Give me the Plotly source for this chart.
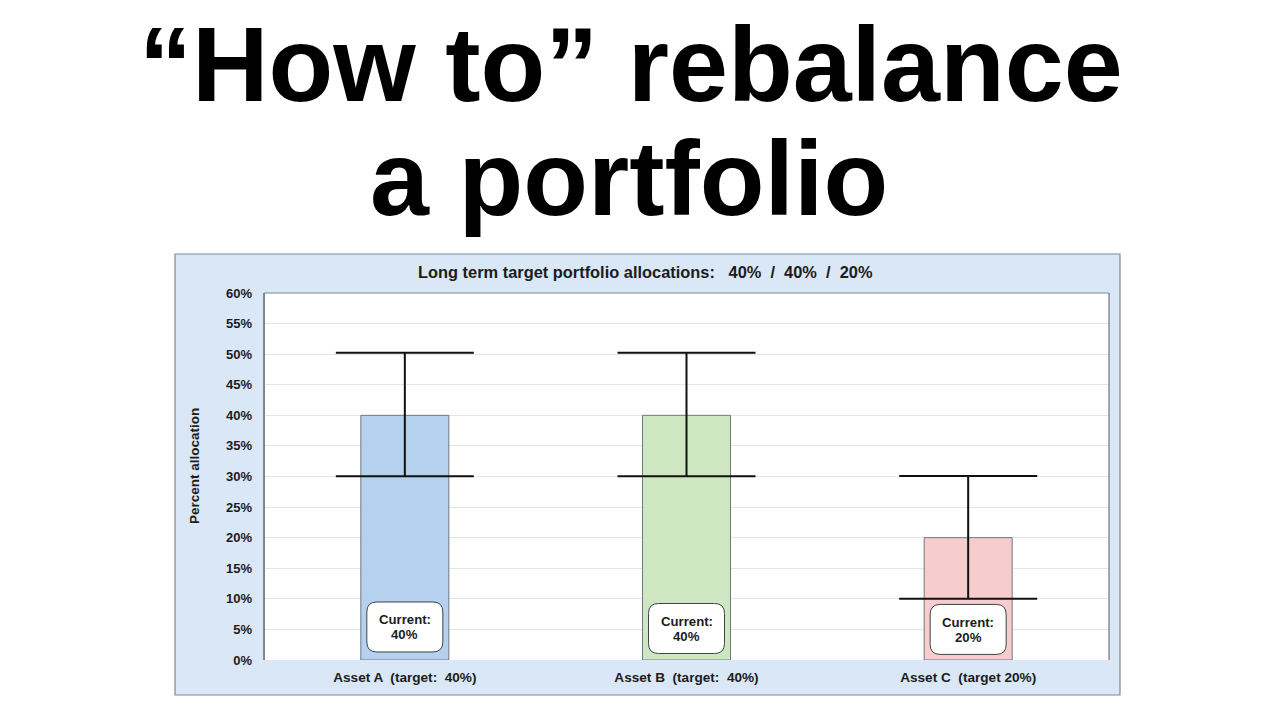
import plotly.graph_objects as go

# Values
categories = ['Asset A  (target:  40%)', 'Asset B  (target:  40%)', 'Asset C  (target 20%)']
current = [40, 40, 20]
band_high = [50.25, 50.25, 30.1]
band_low = [30.05, 30.05, 10.0]
current_labels = ['40%', '40%', '20%']
bar_colors = ['#b5d1ee', '#cfe6c3', '#f7cccd']
y_ticks = list(range(0, 65, 5))
y_labels = [f'{t}%' for t in y_ticks]

FONT = 'Liberation Sans'
TEXT = '#1c1c1c'
PANEL = '#d9e7f6'

# plot area in page pixels
L, R, T, B = 264, 1109, 293, 660
W, H = 1280, 720


def page_x(x):
    return (x - L) / (R - L)


def page_y(y):
    return (B - y) / (B - T)


def rounded_box(w, h, r):
    # path in pixels, centred on the anchor
    x0, x1, y0, y1 = -w / 2, w / 2, -h / 2, h / 2
    return (f'M {x0 + r} {y0} L {x1 - r} {y0} Q {x1} {y0} {x1} {y0 + r} '
            f'L {x1} {y1 - r} Q {x1} {y1} {x1 - r} {y1} '
            f'L {x0 + r} {y1} Q {x0} {y1} {x0} {y1 - r} '
            f'L {x0} {y0 + r} Q {x0} {y0} {x0 + r} {y0} Z')


fig = go.Figure()
fig.add_trace(go.Bar(
    x=categories,
    y=current,
    width=0.3125,
    marker={'color': bar_colors, 'line': {'color': '#6f7a80', 'width': 1}},
    error_y={
        'type': 'data',
        'symmetric': False,
        'array': [h - c for h, c in zip(band_high, current)],
        'arrayminus': [c - l for l, c in zip(band_low, current)],
        'color': '#111111',
        'thickness': 2,
        'width': 69,
    },
    hoverinfo='skip',
))

shapes = [
    # light blue panel behind the chart
    dict(type='rect', xref='paper', yref='paper', layer='below',
         x0=page_x(175), x1=page_x(1120), y0=page_y(695), y1=page_y(254),
         fillcolor=PANEL, line={'color': '#7f878e', 'width': 1.2}),
    dict(type='rect', xref='paper', yref='paper', layer='below',
         x0=0, x1=1, y0=0, y1=1, fillcolor='white', line={'width': 0}),
    dict(type='line', xref='paper', yref='paper', x0=0, x1=1, y0=1, y1=1,
         line={'color': '#7f878e', 'width': 1}),
    dict(type='line', xref='paper', yref='paper', x0=0, x1=0, y0=0, y1=1,
         line={'color': '#7f878e', 'width': 2}),
    dict(type='line', xref='paper', yref='paper', x0=1, x1=1, y0=0, y1=1,
         line={'color': '#555c62', 'width': 1}),
]

annotations = [
    dict(text='“How to” rebalance', x=page_x(630.5), y=page_y(64)),
    dict(text='a portfolio', x=page_x(629), y=page_y(178)),
]
annotations = [dict(a, xref='paper', yref='paper', showarrow=False, xanchor='center', yanchor='middle',
                    font={'family': FONT, 'size': 106, 'color': 'black', 'weight': 'bold'})
               for a in annotations]
annotations.append(dict(
    text='Long term target portfolio allocations:   40%  /  40%  /  20%',
    x=page_x(645), y=page_y(271.5), xref='paper', yref='paper', showarrow=False,
    xanchor='center', yanchor='middle',
    font={'family': FONT, 'size': 16.4, 'color': TEXT, 'weight': 'bold'}))
annotations.append(dict(
    text='Percent allocation', textangle=-90,
    x=page_x(194), y=page_y(466), xref='paper', yref='paper', showarrow=False,
    xanchor='center', yanchor='middle',
    font={'family': FONT, 'size': 13.5, 'color': TEXT, 'weight': 'bold'}))

# "Current" callouts sit near the foot of each bar
box_centres = [5.4, 5.15, 5.0]
for cat, label, yc in zip(categories, current_labels, box_centres):
    shapes.append(dict(type='path', xref='x', yref='y', xsizemode='pixel', ysizemode='pixel',
                       xanchor=cat, yanchor=yc, path=rounded_box(76, 50, 10),
                       fillcolor='white', line={'color': '#3d4347', 'width': 1}))
    for text, shift in (('Current:', 7), (label, -8)):
        annotations.append(dict(text=text, x=cat, y=yc, yshift=shift, xref='x', yref='y',
                                showarrow=False,
                                font={'family': FONT, 'size': 13.2, 'color': TEXT, 'weight': 'bold'}))

fig.update_layout(
    width=W,
    height=H,
    margin={'l': L, 'r': W - R, 't': T, 'b': H - B, 'pad': 0},
    paper_bgcolor='white',
    plot_bgcolor='rgba(0,0,0,0)',
    showlegend=False,
    shapes=shapes,
    annotations=annotations,
    font={'family': FONT, 'color': TEXT},
)
fig.update_xaxes(
    showgrid=False, showline=False, ticks='', zeroline=False,
    ticklabelstandoff=7,
    tickfont={'family': FONT, 'size': 13.6, 'weight': 'bold', 'color': TEXT},
)
fig.update_yaxes(
    range=[0, 60],
    tickvals=y_ticks,
    ticktext=y_labels,
    ticks='',
    showline=False,
    zeroline=False,
    gridcolor='#e3e5e6',
    gridwidth=1,
    ticklabelstandoff=11,
    tickfont={'family': FONT, 'size': 13, 'weight': 'bold', 'color': TEXT},
)

# the default page margin would push everything 8px off
fig.write_html('out.html', config={'displayModeBar': False},
               post_script="document.body.style.margin='0';")
